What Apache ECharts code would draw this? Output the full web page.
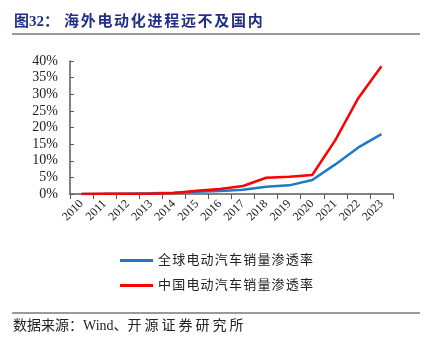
<!DOCTYPE html>
<html>
<head>
<meta charset="utf-8">
<script src="https://cdn.jsdelivr.net/npm/echarts@6/dist/echarts.min.js"></script>
<style>
  html, body { margin: 0; padding: 0; background: #fff; }
  #chart { width: 440px; height: 340px; }
</style>
</head>
<body>
<div id="chart"></div>
<script>
// Years on the category axis
const years = ['2010', '2011', '2012', '2013', '2014', '2015', '2016', '2017', '2018', '2019', '2020', '2021', '2022', '2023'];
// EV sales penetration, percent
const globalRate = [0.02, 0.05, 0.1, 0.2, 0.4, 0.7, 0.9, 1.3, 2.2, 2.6, 4.2, 8.9, 14.0, 18.0];
const chinaRate = [0.0, 0.05, 0.1, 0.1, 0.3, 1.0, 1.5, 2.4, 4.9, 5.2, 5.7, 16.2, 28.9, 38.4];
// Value-axis ticks
const yTicks = [0, 5, 10, 15, 20, 25, 30, 35, 40];

const serif = '"Liberation Serif", "Noto Sans CJK SC", serif';
const cjk = '"Liberation Serif", "Noto Sans CJK SC", sans-serif';

// Wrap every character in a fixed-width rich fragment to space the CJK text out
function spaced(str, style) {
  return Array.from(str).map(ch => '{' + style + '|' + ch + '}').join('');
}

const titleColor = '#1f2f86';

const chart = echarts.init(document.getElementById('chart'), null, { renderer: 'canvas' });
chart.setOption({
  animation: false,
  backgroundColor: '#ffffff',
  title: {
    text: '图32{p|：}' + spaced('海外电动化进程远不及国内', 't'),
    left: 9,
    top: 10,
    textStyle: {
      fontFamily: cjk, fontSize: 15, fontWeight: 'bold', color: titleColor,
      rich: {
        p: { width: 20, fontFamily: cjk, fontSize: 15, fontWeight: 'bold', color: titleColor },
        t: { width: 16.7, fontFamily: cjk, fontSize: 15, fontWeight: 'bold', color: titleColor }
      }
    }
  },
  graphic: [
    { type: 'line', shape: { x1: 12, y1: 34, x2: 420, y2: 34 }, style: { stroke: '#9a9a9a', lineWidth: 2 } },
    { type: 'line', shape: { x1: 12, y1: 313, x2: 420, y2: 313 }, style: { stroke: '#9a9a9a', lineWidth: 2 } },
    {
      type: 'text', left: 13, top: 319,
      style: {
        text: spaced('数据来源：', 'a') + 'Wind' + spaced('、', 'a') + spaced('开源证券研究所', 'b'),
        font: '14px ' + cjk,
        fill: '#222',
        rich: {
          a: { width: 14, fontSize: 14, fontFamily: cjk, fill: '#222', color: '#222' },
          b: { width: 17, fontSize: 14, fontFamily: cjk, fill: '#222', color: '#222' }
        }
      }
    }
  ],
  legend: {
    orient: 'vertical',
    left: 115,
    top: 249,
    itemWidth: 33,
    itemHeight: 3,
    itemGap: 12,
    icon: 'rect',
    formatter: name => spaced(name, 'l'),
    textStyle: {
      fontFamily: cjk, fontSize: 13, color: '#222',
      rich: { l: { width: 14.2, fontFamily: cjk, fontSize: 13, color: '#222' } }
    },
    data: ['全球电动汽车销量渗透率', '中国电动汽车销量渗透率']
  },
  grid: { left: 70, right: 47, top: 61, bottom: 146, containLabel: false },
  xAxis: {
    type: 'category',
    data: years,
    boundaryGap: true,
    axisLine: { lineStyle: { color: '#595959', width: 1.5 } },
    axisTick: { show: true, alignWithLabel: false, length: 5, lineStyle: { color: '#595959' } },
    axisLabel: { rotate: 45, interval: 0, fontFamily: serif, fontSize: 12, color: '#222', margin: 8 }
  },
  yAxis: {
    type: 'value',
    min: yTicks[0],
    max: yTicks[yTicks.length - 1],
    interval: 5,
    splitLine: { show: false },
    axisLine: { show: true, lineStyle: { color: '#595959', width: 1.5 } },
    axisTick: { show: true, length: 4, inside: true, lineStyle: { color: '#595959' } },
    axisLabel: { formatter: v => v + '%', fontFamily: serif, fontSize: 14, color: '#222', margin: 12 }
  },
  series: [
    {
      name: '全球电动汽车销量渗透率',
      type: 'line',
      data: globalRate,
      symbol: 'none',
      lineStyle: { color: '#1f78c8', width: 2.5 },
      itemStyle: { color: '#1f78c8' },
      z: 2
    },
    {
      name: '中国电动汽车销量渗透率',
      type: 'line',
      data: chinaRate,
      symbol: 'none',
      lineStyle: { color: '#ff0000', width: 2.5 },
      itemStyle: { color: '#ff0000' },
      z: 3
    }
  ]
});
</script>
</body>
</html>
